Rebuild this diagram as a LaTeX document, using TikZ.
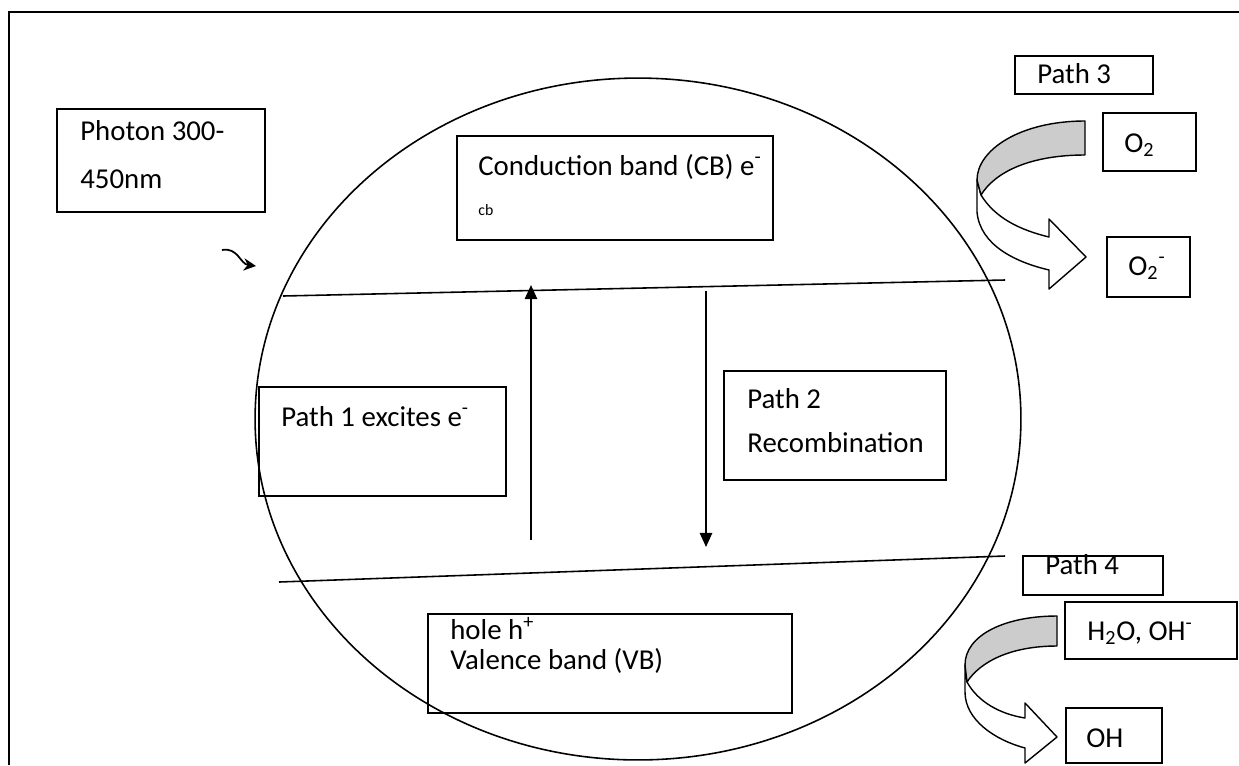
\documentclass[tikz,border=0pt]{standalone}
\usepackage{fontspec}
\setmainfont{Carlito}
\usetikzlibrary{arrows.meta,shapes.geometric}

\tikzset{
  box/.style={draw, line width=1pt, inner sep=0pt, outer sep=0pt},
  lbl/.style={anchor=base west, inner sep=0pt, font=\fontsize{16.4}{20}\selectfont},
  tiny/.style={anchor=base west, inner sep=0pt, font=\fontsize{9}{11}\selectfont},
  band/.style={line width=0.9pt},
  jump/.style={-{Triangle[width=7pt,length=8pt]}, line width=1pt},
  turn/.style={draw, line width=0.8pt, line join=round},
}

\begin{document}
\begin{tikzpicture}[x=0.02cm, y=-0.02cm]
\useasboundingbox (0,0) rectangle (1239,765);
\draw[line width=1.7pt] (9,765) -- (9,12) -- (1239,12);

% particle
\node[draw, ellipse, line width=0.9pt, inner sep=0pt,
      minimum width=15.32cm, minimum height=13.64cm] (grain) at (638,419) {};

% boxes
\node[box, minimum width=4.16cm, minimum height=2.06cm] (photon) at (161,160.5) {};
\node[box, minimum width=6.32cm, minimum height=2.08cm] (cb) at (615,188) {};
\node[box, minimum width=4.94cm, minimum height=2.18cm] (path1) at (382.5,441.5) {};
\node[box, minimum width=4.44cm, minimum height=2.18cm] (path2) at (835,425.5) {};
\node[box, minimum width=7.28cm, minimum height=1.98cm] (vb) at (610,663.5) {};
\node[box, minimum width=2.76cm, minimum height=0.76cm] (path3) at (1084,75) {};
\node[box, minimum width=1.86cm, minimum height=1.16cm] (otwo) at (1149.5,142) {};
\node[box, minimum width=1.66cm, minimum height=1.2cm] (otwom) at (1148.5,267) {};
\node[box, minimum width=2.8cm, minimum height=0.78cm] (path4) at (1093,575.5) {};
\node[box, minimum width=3.44cm, minimum height=1.14cm] (water) at (1151,630.5) {};
\node[box, minimum width=1.92cm, minimum height=1.1cm] (hydroxyl) at (1114,735.5) {};

% texts
\node[lbl] (tphoton) at (80,140) {Photon 300-};
\node[lbl] (tnm) at (80,188) {450nm};
\node[lbl] (tcb) at (478,175) {Conduction band (CB) e\textsuperscript{-}};
\node[tiny] (tsub) at (478,215) {cb};
\node[lbl] (tpath1) at (281,426) {Path 1 excites e\textsuperscript{-}};
\node[lbl] (tpath2) at (747,408) {Path 2};
\node[lbl] (trec) at (747,452) {Recombination};
\node[lbl] (thole) at (450,639) {hole h\textsuperscript{+}};
\node[lbl] (tvb) at (450,669) {Valence band (VB)};
\node[lbl] (tpath3) at (1037,83) {Path 3};
\node[lbl] (totwo) at (1124,152) {O\textsubscript{2}};
\node[lbl] (totwom) at (1128,275) {O\textsubscript{2}\textsuperscript{-}};
\node[lbl] (tpath4) at (1045,574) {Path 4};
\node[lbl] (twater) at (1087,640) {H\textsubscript{2}O, OH\textsuperscript{-}};
\node[lbl] (thydroxyl) at (1086,747) {OH};

% band edges
\coordinate (cbL) at (283,296);
\coordinate (cbR) at (1005,280);
\coordinate (vbL) at (279,582);
\coordinate (vbR) at (1005,556);
\draw[band] (cbL) -- (cbR);
\draw[band] (vbL) -- (vbR);

% path 1 and path 2
\coordinate (upS) at (531,540);
\coordinate (upE) at (531,285);
\coordinate (dnS) at (706,291);
\coordinate (dnE) at (706,547);
\draw[jump] (upS) -- (upE);
\draw[jump] (dnS) -- (dnE);

% photon
\coordinate (ph0) at (222,250);
\coordinate (ph1) at (256,266);
\draw[-{Stealth[length=7pt,width=7pt]}, line width=1pt]
  (ph0) .. controls (238,247) and (240,264) .. (ph1);

% path 3 turn arrow
\path[turn, fill=white] (981,195) .. controls (995,218) and (1020,230) .. (1049,237)
  -- (1049,219) -- (1086,257) -- (1049,289) -- (1049,270)
  .. controls (1015,262) and (980,245) .. (977,212) -- (977,180) -- cycle;
\path[turn, fill=black!20] (1085,121) .. controls (1020,121) and (977,150) .. (977,180)
  -- (981,195) .. controls (995,172) and (1030,155) .. (1085,155) -- cycle;

% path 4 turn arrow
\path[turn, fill=white] (967,682) .. controls (978,702) and (1000,714) .. (1025,718)
  -- (1025,703) -- (1057,737) -- (1025,763) -- (1025,748)
  .. controls (995,740) and (965,720) .. (965,692) -- (965,665) -- cycle;
\path[turn, fill=black!20] (1057,616) .. controls (1005,616) and (965,635) .. (965,665)
  -- (967,682) .. controls (980,662) and (1010,646) .. (1057,646) -- cycle;
\end{tikzpicture}
\end{document}
